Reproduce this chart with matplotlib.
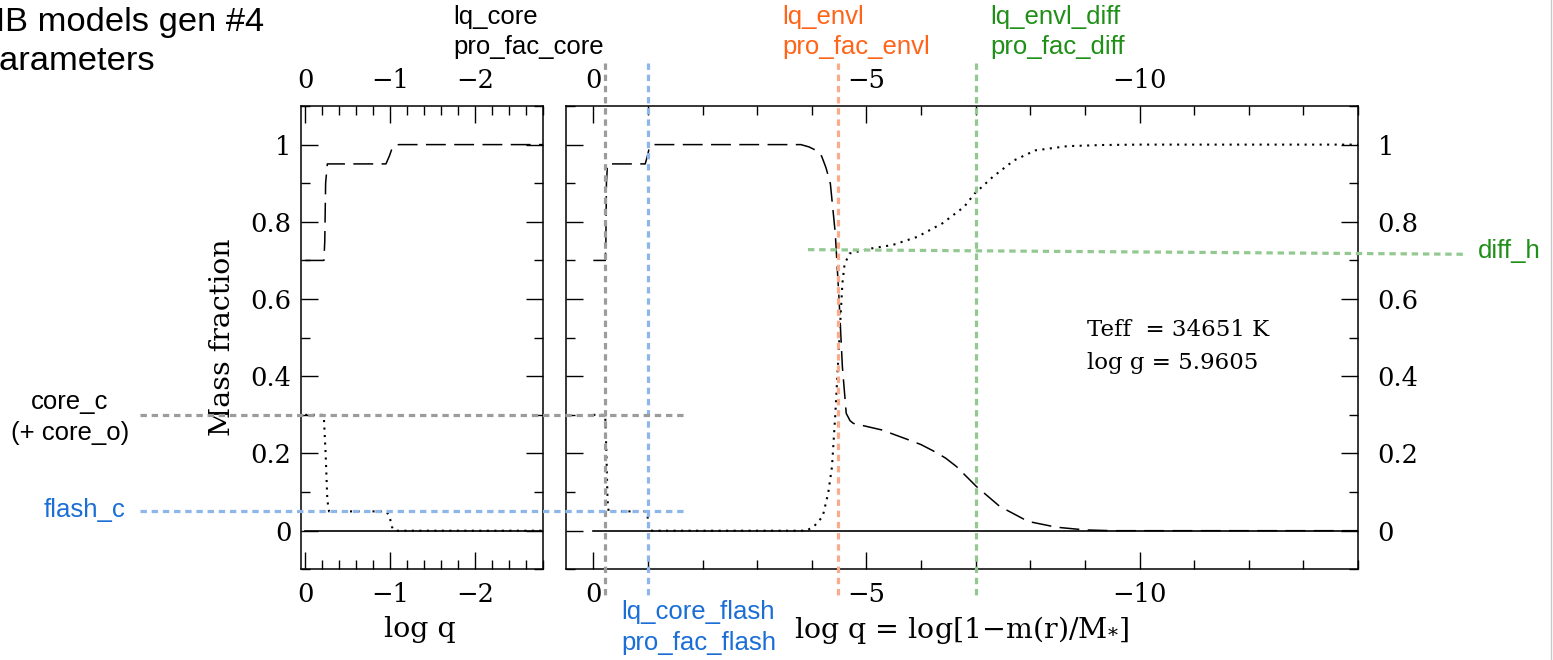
import matplotlib
matplotlib.use('Agg')
import matplotlib.pyplot as plt
from matplotlib.lines import Line2D
from matplotlib.ticker import MultipleLocator, FuncFormatter
from matplotlib.transforms import blended_transform_factory

# --- profile data (log q, mass fraction) ---
lq_dash = [0, -0.22, -0.23, -0.24, -0.26, -0.95, -0.99, -1.03, -1.1, -3.8, -3.95,
           -4.08, -4.18, -4.26, -4.34, -4.43, -4.50, -4.56, -4.63, -4.70, -4.76,
           -5.28, -5.74, -6.0, -6.26, -6.45, -6.65, -7.01, -7.44, -7.96, -8.48, -9.0, -9.5, -14]
x_dash = [0.70, 0.70, 0.75, 0.90, 0.95, 0.95, 0.97, 0.995, 1.0, 1.0, 0.994,
          0.985, 0.970, 0.94, 0.899, 0.770, 0.597, 0.425, 0.304, 0.285, 0.278,
          0.261, 0.237, 0.223, 0.204, 0.188, 0.166, 0.115, 0.063, 0.024, 0.009, 0.002, 0.0, 0.0]

lq_dot = [0, -0.20, -0.22, -0.24, -0.26, -0.28, -0.95, -0.99, -1.02, -1.05, -3.9,
          -4.04, -4.2, -4.30, -4.37, -4.43, -4.51, -4.56, -4.60, -4.69, -5.09,
          -5.48, -5.93, -6.39, -6.79, -6.98, -7.31, -7.70, -8.09, -8.68, -9.33, -10, -14]
x_dot = [0.30, 0.30, 0.29, 0.20, 0.08, 0.05, 0.05, 0.04, 0.01, 0.0, 0.0,
         0.011, 0.037, 0.097, 0.166, 0.300, 0.511, 0.640, 0.690, 0.718, 0.731,
         0.740, 0.761, 0.796, 0.839, 0.873, 0.916, 0.959, 0.985, 0.996, 0.999, 1.0, 1.0]

lq_solid = [0, -14]
x_solid = [0.0, 0.0]

# --- model parameters marked on the plot ---
lq_core = -0.22
lq_core_flash = -1.01
lq_envl = -4.48
lq_envl_diff = -7.0
core_c = 0.30
flash_c = 0.05
diff_h = (0.728, 0.716)

C_GREY, C_BLUE, C_ORANGE, C_GREEN = '#9c9c9c', '#8db6ea', '#f9ab8c', '#93c990'
T_BLUE, T_ORANGE, T_GREEN = '#1a6ed6', '#ff6418', '#1f8f17'

W, H = 1553, 660
SANS = 'Liberation Sans'
plt.rcParams['font.family'] = 'DejaVu Serif'
plt.rcParams['mathtext.fontset'] = 'dejavuserif'

fig = plt.figure(figsize=(W / 100, H / 100), dpi=100, facecolor='white')
axL = fig.add_axes([301 / W, 1 - 569.3 / H, 242 / W, 463.3 / H])
axR = fig.add_axes([566 / W, 1 - 569.3 / H, 792 / W, 463.3 / H])

fmt = FuncFormatter(lambda v, p: f'{v:g}'.replace('-', '\u2212') if abs(v) > 1e-9 else '0')


def style(ax, xmaj, xmin):
    for s in ax.spines.values():
        s.set_linewidth(1.1)
    ax.set_ylim(-0.1, 1.1)
    ax.xaxis.set_major_locator(MultipleLocator(xmaj))
    ax.xaxis.set_minor_locator(MultipleLocator(xmin))
    ax.yaxis.set_major_locator(MultipleLocator(0.2))
    ax.yaxis.set_minor_locator(MultipleLocator(0.1))
    ax.xaxis.set_major_formatter(fmt)
    ax.yaxis.set_major_formatter(fmt)
    ax.tick_params(which='both', direction='in', top=True, bottom=True,
                   left=True, right=True, width=1.0, labelsize=18.5)
    ax.tick_params(which='major', length=12.5)
    ax.tick_params(which='minor', length=6.5)
    ax.tick_params(axis='x', labeltop=True, pad=9)


for ax in (axL, axR):
    ax.plot(lq_solid, x_solid, color='black', lw=1.2)
    ax.plot(lq_dash, x_dash, color='black', lw=1.1, linestyle=(0, (13, 5.5)))
    ax.plot(lq_dot, x_dot, color='black', lw=1.5, linestyle=(0, (1, 2.6)))

axL.set_xlim(0.05, -2.8)
style(axL, 1, 0.2)
axL.tick_params(axis='y', pad=7)
axR.set_xlim(0.5, -14)
style(axR, 5, 1)
axR.tick_params(axis='y', labelleft=False, labelright=True, pad=14)

axL.set_ylabel('Mass fraction', fontsize=20.5)
axL.yaxis.set_label_coords(-0.326, 0.5)
axL.yaxis.label.set_va('center')
axL.set_xlabel('log q', fontsize=20.5)
axL.xaxis.set_label_coords(0.49, -0.131)
axL.xaxis.label.set_va('center')
axR.set_xlabel(r'log q = log[1$-$m(r)/M$_{*}$]', fontsize=20.5)
axR.xaxis.set_label_coords(0.499, -0.131)
axR.xaxis.label.set_va('center')

axR.text(1087 / W, 1 - 330 / H, 'Teff  = 34651 K', transform=fig.transFigure,
         fontsize=16.5, va='center')
axR.text(1087 / W, 1 - 363 / H, 'log g = 5.9605', transform=fig.transFigure,
         fontsize=16.5, va='center')

# guide lines for the parameters
gl = dict(lw=2.3, linestyle=(0, (2, 1.5)), clip_on=False)
vtr = blended_transform_factory(axR.transData, fig.transFigure)
for xv, c in [(lq_core, C_GREY), (lq_core_flash, C_BLUE), (lq_envl, C_ORANGE), (lq_envl_diff, C_GREEN)]:
    fig.add_artist(Line2D([xv, xv], [1 - 63 / H, 1 - 597 / H], color=c, transform=vtr, **gl))
htr = blended_transform_factory(fig.transFigure, axR.transData)
fig.add_artist(Line2D([140 / W, 685 / W], [core_c, core_c], color=C_GREY, transform=htr, **gl))
fig.add_artist(Line2D([140 / W, 685 / W], [flash_c, flash_c], color=C_BLUE, transform=htr, **gl))
fig.add_artist(Line2D([808 / W, 1465 / W], list(diff_h), color=C_GREEN, transform=htr, **gl))


# annotation labels
def ftext(x, y, s, color='black', ha='left', size=18.5):
    fig.text(x / W, 1 - y / H, s, color=color, ha=ha, va='center', fontsize=size, family=SANS)


ftext(-20, 22, 'HB models gen #4', size=24.8)
ftext(-24, 61, 'Parameters', size=24.8)
ftext(453, 17, 'lq_core')
ftext(453, 47, 'pro_fac_core')
ftext(782, 17, 'lq_envl', T_ORANGE)
ftext(782, 47, 'pro_fac_envl', T_ORANGE)
ftext(990, 17, 'lq_envl_diff', T_GREEN)
ftext(990, 47, 'pro_fac_diff', T_GREEN)
ftext(621, 612, 'lq_core_flash', T_BLUE)
ftext(621, 643, 'pro_fac_flash', T_BLUE)
ftext(1478, 251, 'diff_h', T_GREEN)
ftext(70, 402, 'core_c', ha='center')
ftext(70, 433, '(+ core_o)', ha='center')
ftext(125, 510, 'flash_c', T_BLUE, ha='right')

fig.add_artist(Line2D([1551 / W, 1551 / W], [0, 1], color='#c8c8c8', lw=1.0, transform=fig.transFigure))

fig.savefig('out.png', dpi=100, facecolor='white')
